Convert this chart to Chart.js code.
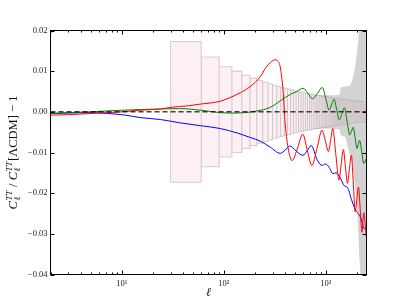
<!DOCTYPE html>
<html>
<head>
<meta charset="utf-8">
<script src="https://cdn.jsdelivr.net/npm/chart.js@4.4.1/dist/chart.umd.min.js"></script>
<style>
  html, body { margin: 0; padding: 0; background: #fff; }
  #wrap { width: 407px; height: 305px; }
</style>
</head>
<body>
<div id="wrap"><canvas id="chart" width="407" height="305"></canvas></div>
<script>
// --- DATA ---
const xMajorTicks = [10, 100, 1000];
const xTickLabels = ['10\u00b9', '10\u00b2', '10\u00b3'];
const yTicks = [-0.04, -0.03, -0.02, -0.01, 0.00, 0.01, 0.02];

// red model
const redEll = [2, 3, 5, 10, 15, 24, 30, 45, 59, 75, 92, 115, 145, 181, 227, 260, 285, 318, 340, 357, 380, 399, 430, 467,
  520, 594, 656, 729, 818, 916, 985, 1060, 1113, 1168, 1252, 1342, 1410, 1484, 1553, 1627, 1700, 1778, 1855, 1938,
  2010, 2085, 2170, 2255, 2305, 2360, 2430, 2500];
const redVal = [-0.0008, -0.0007, -0.0004, 0.0000, 0.0004, 0.0007, 0.0011, 0.0015, 0.0019, 0.0022, 0.0026, 0.0035, 0.0047, 0.0062, 0.0086, 0.0110, 0.0121, 0.0128, 0.0124, 0.0110, 0.0053, -0.0030, -0.0094, -0.0120,
  -0.0094, -0.0055, -0.0094, -0.0132, -0.0090, -0.0045, -0.0070, -0.0098, -0.0070, -0.0041, -0.0105, -0.0168, -0.0130, -0.0093, -0.0135, -0.0176, -0.0140, -0.0107, -0.0175, -0.0246,
  -0.0215, -0.0185, -0.0240, -0.0296, -0.0270, -0.0248, -0.0280, -0.0310];

// green model
const greenEll = [2, 3, 4.9, 10, 24, 37, 59, 92, 120, 160, 210, 285, 357, 447, 520, 598, 665, 740, 830, 922, 1000, 1075, 1135, 1200,
  1275, 1350, 1435, 1520, 1615, 1715, 1780, 1850, 1935, 2020, 2080, 2140, 2245, 2350, 2500];
const greenVal = [-0.0004, -0.0002, 0.0000, 0.0004, 0.0007, 0.0008, 0.0004, -0.0002, -0.0003, -0.0002, 0.0002, 0.0011, 0.0027, 0.0043, 0.0050, 0.0058, 0.0046, 0.0032, 0.0046, 0.0060, 0.0032, 0.0004, 0.0017, 0.0031,
  0.0006, -0.0020, -0.0005, 0.0010, -0.0024, -0.0057, -0.0048, -0.0038, -0.0064, -0.0090, -0.0080, -0.0070, -0.0098, -0.0127, -0.0114];

// blue model
const blueEll = [2, 3, 4.9, 7.2, 10.8, 15, 24, 37, 59, 92, 135, 181, 227, 285, 357, 400, 440, 510, 594, 655, 717, 823, 920, 985,
  1080, 1168, 1260, 1381, 1516, 1627, 1778, 1938, 2073, 2220, 2370, 2500];
const blueVal = [-0.0004, -0.0003, -0.0002, -0.0004, -0.0008, -0.0014, -0.0019, -0.0027, -0.0034, -0.0041, -0.0052, -0.0063, -0.0072, -0.0087, -0.0102, -0.0094, -0.0084, -0.0096, -0.0107, -0.0096, -0.0083, -0.0118, -0.0132, -0.0128,
  -0.0137, -0.0152, -0.0150, -0.0162, -0.0182, -0.0186, -0.0215, -0.0240, -0.0250, -0.0263, -0.0287, -0.0287];

// binned cosmic variance boxes
const binEdges = [30, 60, 90, 120, 150, 180, 210, 240, 270, 300,
  330, 360, 390, 420, 450, 480, 510, 540, 570, 600,
  630, 660, 690, 720, 750, 780, 810, 840, 870, 900,
  930, 960, 990, 1020, 1050, 1080, 1110, 1140, 1170, 1200,
  1230, 1260, 1290, 1320, 1350, 1380, 1410, 1440, 1470, 1500,
  1530, 1560, 1590, 1620, 1650, 1680, 1710, 1740, 1770, 1800,
  1830, 1860, 1890, 1920, 1950, 1980, 2010, 2040, 2070, 2100,
  2130, 2160, 2190, 2220, 2250, 2280, 2310, 2340, 2370, 2400,
  2430, 2460, 2490];
const binSigma = [0.0173, 0.0135, 0.0111, 0.0100, 0.0090, 0.0083, 0.0077, 0.0073, 0.0069, 0.0065,
  0.0062, 0.0060, 0.0058, 0.0056, 0.0054, 0.0052, 0.0051, 0.0049, 0.0048, 0.0047,
  0.0046, 0.0045, 0.0044, 0.0043, 0.0042, 0.0041, 0.0040, 0.0040, 0.0039, 0.0038,
  0.0038, 0.0037, 0.0037, 0.0036, 0.0036, 0.0035, 0.0035, 0.0034, 0.0034, 0.0033,
  0.0033, 0.0032, 0.0032, 0.0032, 0.0031, 0.0031, 0.0031, 0.0030, 0.0030, 0.0030,
  0.0030, 0.0029, 0.0029, 0.0029, 0.0028, 0.0028, 0.0028, 0.0028, 0.0027, 0.0027,
  0.0027, 0.0027, 0.0027, 0.0026, 0.0026, 0.0026, 0.0026, 0.0026, 0.0025, 0.0025,
  0.0025, 0.0025, 0.0025, 0.0025, 0.0024, 0.0024, 0.0024, 0.0024, 0.0024, 0.0024,
  0.0023, 0.0023];

// grey noise band
const greyEll = [600, 800, 1000, 1250, 1360, 1400, 1550, 1730, 1800, 1900, 1960, 2020, 2080, 2130, 2200, 2300, 2500];
const greyUpper = [0.0045, 0.0042, 0.0041, 0.0041, 0.0042, 0.0060, 0.0062, 0.0065, 0.0075, 0.0100, 0.0120, 0.0150, 0.0180, 0.0220, 0.0300, 0.0400, 0.0600];
const greyLower = [-0.0045, -0.0042, -0.0041, -0.0042, -0.0043, -0.0058, -0.0062, -0.0110, -0.0125, -0.0170, -0.0200, -0.0230, -0.0300, -0.0360, -0.0420, -0.0500, -0.0600];

// --- HELPERS ---
const pts = (xs, ys) => xs.map((x, i) => ({x: x, y: ys[i]}));

// one continuous path through every box edge (one stroke, so no alpha build-up)
function boxOutline() {
    const out = [];
    binSigma.forEach((s, i) => {
        const x0 = binEdges[i], x1 = binEdges[i + 1];
        out.push({x: x0, y: s}, {x: x0, y: -s}, {x: x0, y: s}, {x: x1, y: s});
    });
    const n = binSigma.length;
    out.push({x: binEdges[n], y: -binSigma[n - 1]});
    for (let i = n - 1; i >= 0; i--) {
        out.push({x: binEdges[i + 1], y: -binSigma[i]}, {x: binEdges[i], y: -binSigma[i]});
    }
    return out;
}
function boxStep(sign) {
    const out = [];
    binSigma.forEach((s, i) => { out.push({x: binEdges[i], y: sign * s}, {x: binEdges[i + 1], y: sign * s}); });
    return out;
}

const serif = '"Liberation Serif", "DejaVu Serif", serif';
const line = (extra) => Object.assign({pointRadius: 0, borderWidth: 1, fill: false}, extra);

// --- PLUGIN: frame, inward ticks, y label ---
const framePlugin = {
    id: 'frame',
    afterDraw(chart) {
        const {ctx, chartArea: a, scales: {x, y}} = chart;
        ctx.save();
        ctx.strokeStyle = '#000';
        ctx.lineWidth = 1;
        const seg = (x0, y0, x1, y1) => { ctx.beginPath(); ctx.moveTo(x0, y0); ctx.lineTo(x1, y1); ctx.stroke(); };

        yTicks.forEach(v => {
            const py = Math.round(y.getPixelForValue(v)) + 0.5;
            seg(a.left, py, a.left + 4, py);
            seg(a.right, py, a.right - 4, py);
        });
        const minor = [];
        [1, 10, 100, 1000].forEach(d => { for (let k = 2; k <= 9; k++) if (k * d >= 2 && k * d <= 2500) minor.push(k * d); });
        minor.forEach(v => {
            const px = Math.round(x.getPixelForValue(v)) + 0.5;
            seg(px, a.bottom, px, a.bottom - 2);
            seg(px, a.top, px, a.top + 2);
        });
        xMajorTicks.forEach(v => {
            const px = Math.round(x.getPixelForValue(v)) + 0.5;
            seg(px, a.bottom, px, a.bottom - 4);
            seg(px, a.top, px, a.top + 4);
        });
        ctx.strokeRect(a.left, a.top, a.right - a.left, a.bottom - a.top);

        // y axis label with sub/superscripts
        const size = 12.5, small = 9;
        const it = s => 'italic ' + s + 'px ' + serif;
        const up = s => s + 'px ' + serif;
        const runs = [
            {t: 'C', f: it(size)}, {sup: 'TT', sub: '\u2113'}, {t: ' / ', f: up(size)},
            {t: 'C', f: it(size)}, {sup: 'TT', sub: '\u2113'}, {t: '[\u039bCDM] \u2212 1', f: up(size)}
        ];
        let total = 0;
        runs.forEach(r => {
            if (r.t) { ctx.font = r.f; r.w = ctx.measureText(r.t).width; }
            else { ctx.font = it(small); r.w = Math.max(ctx.measureText(r.sup).width, ctx.measureText(r.sub).width) + 1; }
            total += r.w;
        });
        ctx.translate(14, (a.top + a.bottom) / 2);
        ctx.rotate(-Math.PI / 2);
        ctx.fillStyle = '#111';
        ctx.textBaseline = 'middle';
        let cx = -total / 2;
        runs.forEach(r => {
            if (r.t) { ctx.font = r.f; ctx.fillText(r.t, cx, 0); }
            else {
                ctx.font = it(small);
                ctx.fillText(r.sup, cx + 0.5, -4.5);
                ctx.fillText(r.sub, cx + 0.5, 4);
            }
            cx += r.w;
        });
        ctx.restore();
    }
};

// --- CHART ---
window.onload = () => {
    const ctx = document.getElementById('chart').getContext('2d');
    new Chart(ctx, {
        type: 'line',
        data: {
            datasets: [
                line({data: [{x: 2, y: 0}, {x: 2500, y: 0}], borderColor: 'rgba(0,0,0,0.75)', borderWidth: 1.5, borderDash: [5, 3], order: 0}),
                line({data: pts(redEll, redVal), borderColor: '#ff0000', cubicInterpolationMode: 'monotone', order: 1}),
                line({data: pts(greenEll, greenVal), borderColor: '#008000', cubicInterpolationMode: 'monotone', order: 2}),
                line({data: pts(blueEll, blueVal), borderColor: '#0000ff', cubicInterpolationMode: 'monotone', order: 3}),
                line({data: boxOutline(), borderColor: 'rgba(0,0,0,0.17)', borderWidth: 1.1, borderDash: [1000, 0], order: 5}),
                line({data: boxStep(1), borderWidth: 0, fill: 'origin', backgroundColor: '#fdf0f4', order: 6}),
                line({data: boxStep(-1), borderWidth: 0, fill: 'origin', backgroundColor: '#fdf0f4', order: 6}),
                line({data: pts(greyEll, greyUpper), borderWidth: 0, fill: 'origin', backgroundColor: '#d3d3d3', order: 8}),
                line({data: pts(greyEll, greyLower), borderWidth: 0, fill: 'origin', backgroundColor: '#d3d3d3', order: 8})
            ]
        },
        options: {
            responsive: false,
            animation: false,
            layout: {padding: {left: 0, right: 40.5, top: 30.5, bottom: 0}},
            plugins: {legend: {display: false}, tooltip: {enabled: false}},
            scales: {
                x: {
                    type: 'logarithmic', min: 2, max: 2500,
                    grid: {display: false, drawTicks: false},
                    border: {display: false},
                    afterBuildTicks: s => { s.ticks = xMajorTicks.map(v => ({value: v})); },
                    afterFit: s => { s.height = 30.5; },
                    ticks: {
                        autoSkip: false, maxRotation: 0, padding: 4, color: '#222',
                        font: {family: serif, size: 8.5},
                        callback: v => xTickLabels[xMajorTicks.indexOf(v)] || ''
                    },
                    title: {display: true, text: '\u2113', color: '#111', padding: {top: 0, bottom: 5},
                        font: {family: serif, size: 12, style: 'italic'}}
                },
                y: {
                    min: -0.04, max: 0.02,
                    grid: {display: false, drawTicks: false},
                    border: {display: false},
                    afterBuildTicks: s => { s.ticks = yTicks.map(v => ({value: v})); },
                    afterFit: s => { s.width = 50.5; },
                    ticks: {
                        padding: 3, color: '#222',
                        font: {family: serif, size: 8.5},
                        callback: v => (v < -1e-9 ? '\u2212' : '') + Math.abs(v).toFixed(2)
                    }
                }
            }
        },
        plugins: [framePlugin]
    });
};
</script>
</body>
</html>
